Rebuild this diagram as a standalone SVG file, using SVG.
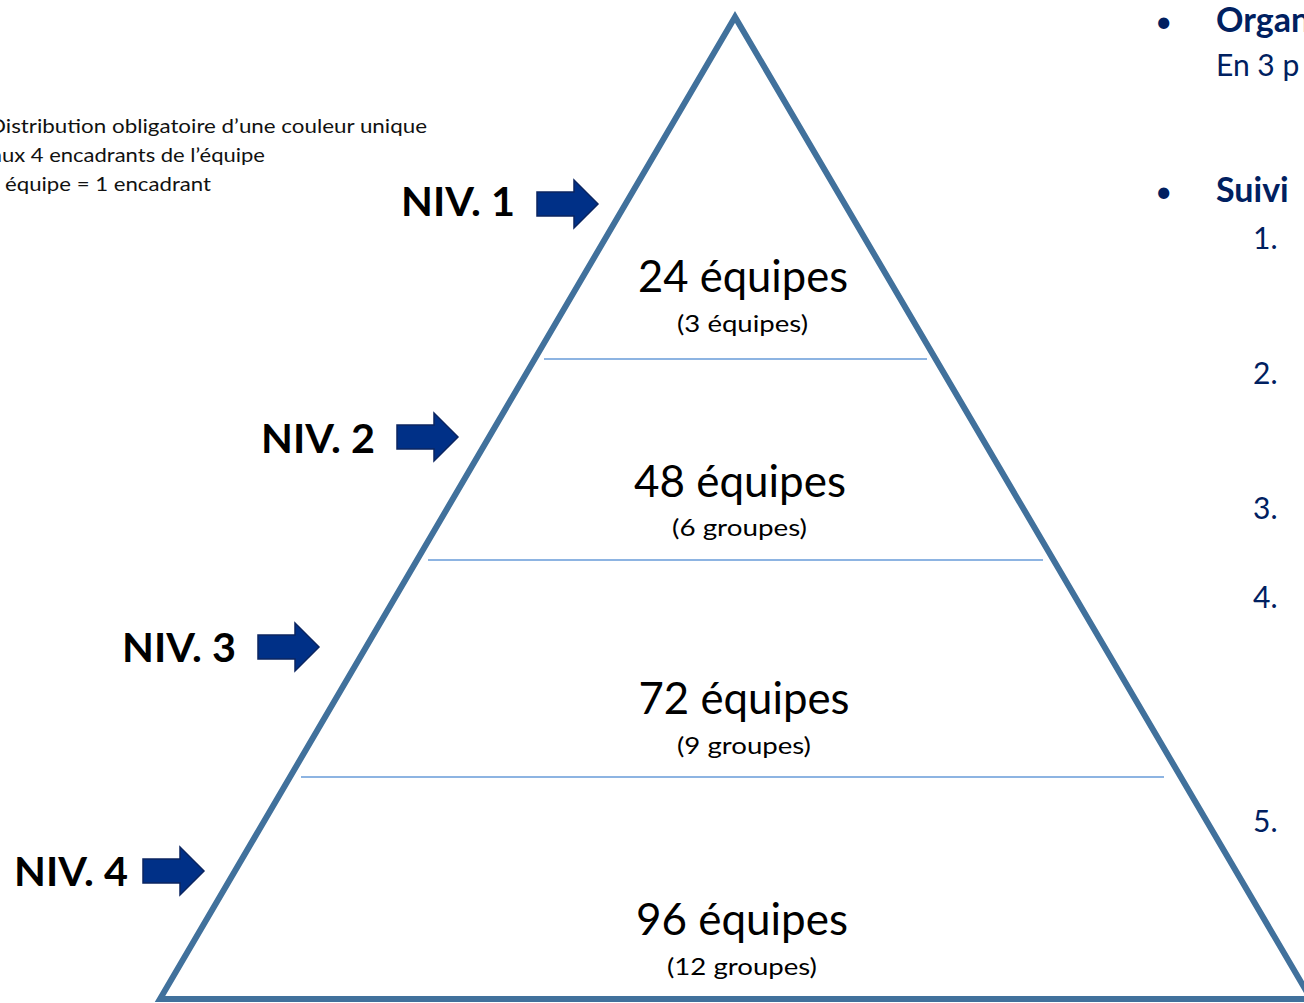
<svg xmlns="http://www.w3.org/2000/svg" width="1304" height="1003" viewBox="0 0 1304 1003">
<style>
.tri{fill:none;stroke:#41719C;stroke-width:6;stroke-linejoin:miter}
.sep{stroke:#8DB4E2;stroke-width:2}
.big{font-family:Lato,"Open Sans",sans-serif;font-size:44px;fill:#000;text-anchor:middle}
.sub{font-family:Lato,"Open Sans",sans-serif;font-size:24px;fill:#000;text-anchor:middle}
.niv{font-family:Lato,"Open Sans",sans-serif;font-size:41px;font-weight:bold;fill:#000}
.note{font-family:Lato,"Open Sans",sans-serif;font-size:20px;fill:#111}
.rt{font-family:Lato,"Open Sans",sans-serif;fill:#002060}
.arr{fill:#003087;stroke:#0B2560;stroke-width:1.5}
</style>
<defs>
<path id="arrow" d="M0,-12 H37 V-24 L61,0 L37,24 V12 H0 Z"/>
</defs>
<g id="pyramid">
<path class="tri" d="M735,17 L160,999 L1311,999 Z"/>
</g>
<g id="separators">
<line class="sep" x1="544" y1="359" x2="927" y2="359"/>
<line class="sep" x1="428" y1="560" x2="1043" y2="560"/>
<line class="sep" x1="301" y1="777" x2="1164" y2="777"/>
</g>
<g id="level1">
<text class="big" x="743" y="292" textLength="210" lengthAdjust="spacingAndGlyphs">24 équipes</text>
<text class="sub" x="742.5" y="332" textLength="131" lengthAdjust="spacingAndGlyphs">(3 équipes)</text>
</g>
<g id="level2">
<text class="big" x="740" y="497" textLength="212" lengthAdjust="spacingAndGlyphs">48 équipes</text>
<text class="sub" x="739.5" y="536" textLength="135" lengthAdjust="spacingAndGlyphs">(6 groupes)</text>
</g>
<g id="level3">
<text class="big" x="744" y="714" textLength="211" lengthAdjust="spacingAndGlyphs">72 équipes</text>
<text class="sub" x="744" y="754" textLength="134" lengthAdjust="spacingAndGlyphs">(9 groupes)</text>
</g>
<g id="level4">
<text class="big" x="742" y="935" textLength="212" lengthAdjust="spacingAndGlyphs">96 équipes</text>
<text class="sub" x="742" y="975" textLength="150" lengthAdjust="spacingAndGlyphs">(12 groupes)</text>
</g>
<g id="niv1">
<text class="niv" x="401" y="216" textLength="114" lengthAdjust="spacingAndGlyphs">NIV. 1</text>
</g>
<g id="niv2">
<text class="niv" x="261" y="453" textLength="114" lengthAdjust="spacingAndGlyphs">NIV. 2</text>
</g>
<g id="niv3">
<text class="niv" x="122" y="662" textLength="114" lengthAdjust="spacingAndGlyphs">NIV. 3</text>
</g>
<g id="niv4">
<text class="niv" x="14" y="886" textLength="114" lengthAdjust="spacingAndGlyphs">NIV. 4</text>
</g>
<g id="connectors">
<use href="#arrow" class="arr" transform="translate(537,204)"/>
<use href="#arrow" class="arr" transform="translate(397,437)"/>
<use href="#arrow" class="arr" transform="translate(258,647)"/>
<use href="#arrow" class="arr" transform="translate(143,871)"/>
</g>
<g id="note">
<text class="note" x="-11" y="133" textLength="438" lengthAdjust="spacingAndGlyphs">Distribution obligatoire d’une couleur unique</text>
<text class="note" x="-9" y="162" textLength="274" lengthAdjust="spacingAndGlyphs">aux 4 encadrants de l’équipe</text>
<text class="note" x="5" y="191" textLength="206" lengthAdjust="spacingAndGlyphs">équipe = 1 encadrant</text>
</g>
<g id="right-text">
<text class="rt" x="1155" y="32" font-size="30px">•</text>
<text class="rt" x="1216" y="32" font-size="34px" font-weight="bold">Organ</text>
<text class="rt" x="1216" y="76" font-size="30px">En 3 p</text>
<text class="rt" x="1155" y="202" font-size="30px">•</text>
<text class="rt" x="1216" y="202" font-size="34px" font-weight="bold">Suivi</text>
<text class="rt" x="1253" y="249" font-size="30px">1.</text>
<text class="rt" x="1253" y="384" font-size="30px">2.</text>
<text class="rt" x="1253" y="519" font-size="30px">3.</text>
<text class="rt" x="1253" y="608" font-size="30px">4.</text>
<text class="rt" x="1253" y="832" font-size="30px">5.</text>
</g>
</svg>
